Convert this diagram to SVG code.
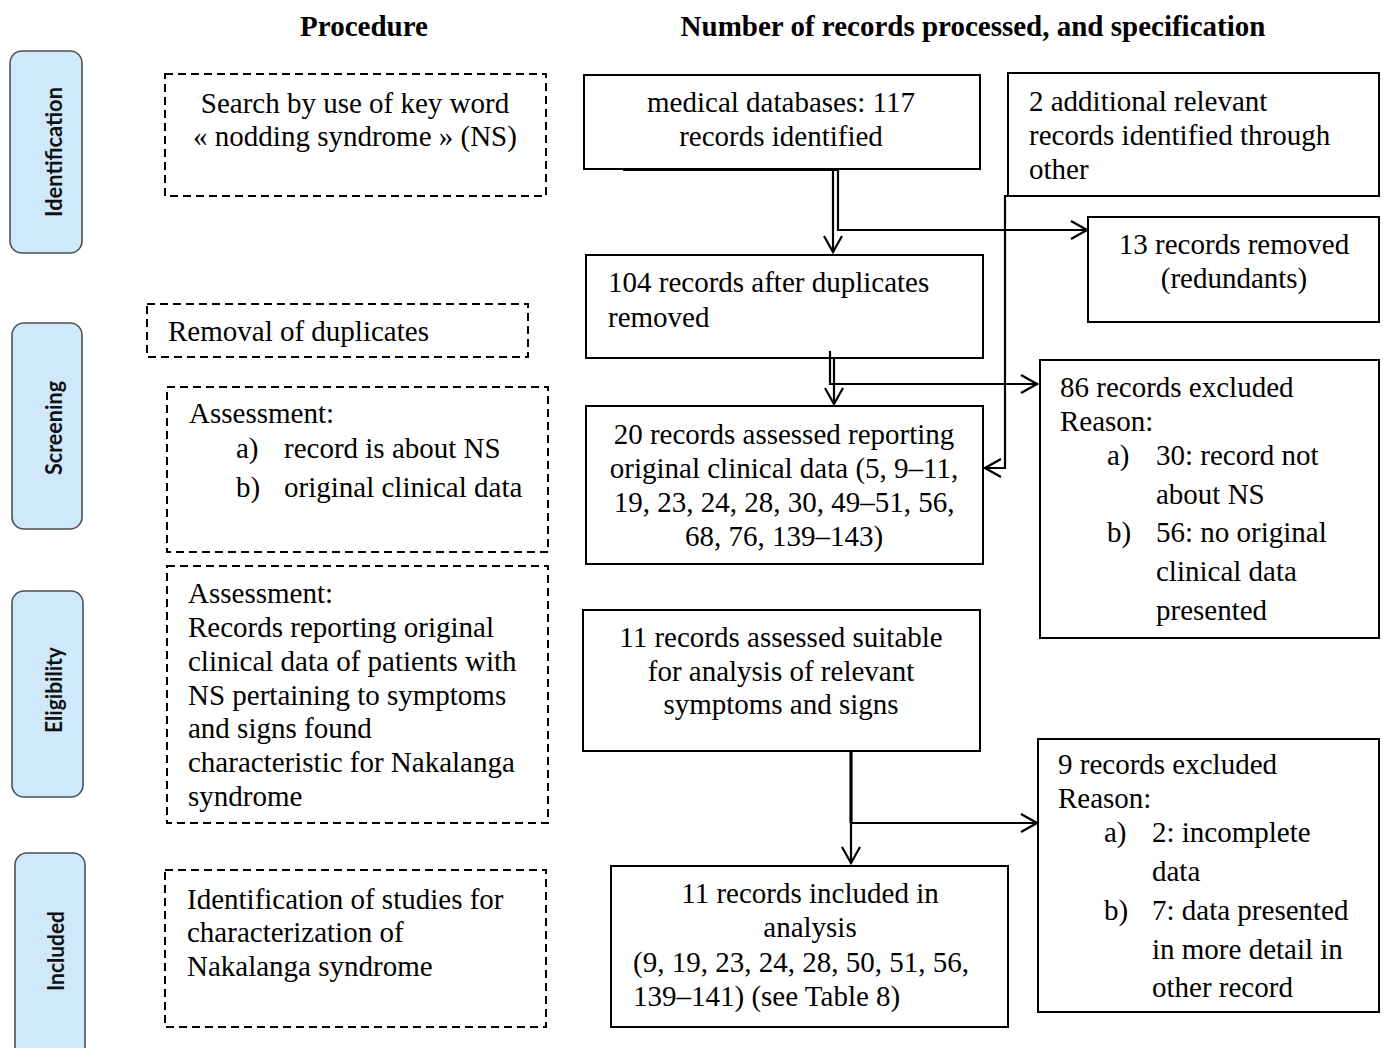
<svg xmlns="http://www.w3.org/2000/svg" width="1383" height="1048" viewBox="0 0 1383 1048">
<defs>
<style>
.t{font-family:"Liberation Serif","Times New Roman",serif;font-size:29px;fill:#000}
.c{text-anchor:middle}
.h{font-weight:bold}
.box{fill:#fff;stroke:#000;stroke-width:2}
.dash{fill:#fff;stroke:#000;stroke-width:2;stroke-dasharray:8 5}
.tab{fill:#cfe9fb;stroke:#4d5257;stroke-width:1.6}
.tabt{font-family:Lato,"Open Sans",sans-serif;font-weight:bold;font-size:22px;fill:#111;text-anchor:middle}
.ln{fill:none;stroke:#000;stroke-width:2.2}
</style>
<marker id="ah" viewBox="0 0 20 20" refX="18" refY="10" markerWidth="20" markerHeight="20" markerUnits="userSpaceOnUse" orient="auto">
<path d="M2,1 L18,10 L2,19" fill="none" stroke="#000" stroke-width="2.2"/>
</marker>
</defs>
<rect width="1383" height="1048" fill="#fff"/>

<g id="headers">
<text class="t h c" x="364" y="36">Procedure</text>
<text class="t h c" x="973" y="36">Number of records processed, and specification</text>
</g>

<g id="tab-identification">
<rect class="tab" x="10" y="51" width="72" height="202" rx="12"/>
<text class="tabt" transform="translate(62,152) rotate(-90)" textLength="130" lengthAdjust="spacingAndGlyphs">Identification</text>
</g>
<g id="tab-screening">
<rect class="tab" x="12" y="323" width="70" height="206" rx="12"/>
<text class="tabt" transform="translate(62,428) rotate(-90)" textLength="94" lengthAdjust="spacingAndGlyphs">Screening</text>
</g>
<g id="tab-eligibility">
<rect class="tab" x="12" y="591" width="71" height="206" rx="12"/>
<text class="tabt" transform="translate(62,690) rotate(-90)" textLength="86" lengthAdjust="spacingAndGlyphs">Eligibility</text>
</g>
<g id="tab-included">
<rect class="tab" x="15" y="853" width="70" height="210" rx="12"/>
<text class="tabt" transform="translate(64,951) rotate(-90)" textLength="80" lengthAdjust="spacingAndGlyphs">Included</text>
</g>

<g id="proc-search">
<rect class="dash" x="165" y="74" width="381" height="122"/>
<text class="t c" x="355" y="113">Search by use of key word</text>
<text class="t c" x="355" y="146">« nodding syndrome » (NS)</text>
</g>
<g id="proc-removal">
<rect class="dash" x="147" y="304" width="381" height="53"/>
<text class="t" x="168" y="341">Removal of duplicates</text>
</g>
<g id="proc-assess1">
<rect class="dash" x="167" y="387" width="381" height="165"/>
<text class="t" x="189" y="423">Assessment:</text>
<text class="t" x="236" y="458">a)</text><text class="t" x="284" y="458">record is about NS</text>
<text class="t" x="236" y="497">b)</text><text class="t" x="284" y="497">original clinical data</text>
</g>
<g id="proc-assess2">
<rect class="dash" x="167" y="566" width="381" height="257"/>
<text class="t" x="188" y="603">Assessment:</text>
<text class="t" x="188" y="637">Records reporting original</text>
<text class="t" x="188" y="671">clinical data of patients with</text>
<text class="t" x="188" y="705">NS pertaining to symptoms</text>
<text class="t" x="188" y="738">and signs found</text>
<text class="t" x="188" y="772">characteristic for Nakalanga</text>
<text class="t" x="188" y="806">syndrome</text>
</g>
<g id="proc-identify">
<rect class="dash" x="165" y="870" width="381" height="157"/>
<text class="t" x="187" y="909">Identification of studies for</text>
<text class="t" x="187" y="942">characterization of</text>
<text class="t" x="187" y="976">Nakalanga syndrome</text>
</g>

<g id="n-medical">
<rect class="box" x="584" y="75" width="396" height="94"/>
<text class="t c" x="781" y="112">medical databases: 117</text>
<text class="t c" x="781" y="146">records identified</text>
</g>
<g id="n-additional">
<rect class="box" x="1008" y="73" width="371" height="123"/>
<text class="t" x="1029" y="111">2 additional relevant</text>
<text class="t" x="1029" y="145">records identified through</text>
<text class="t" x="1029" y="179">other</text>
</g>
<g id="n-removed">
<rect class="box" x="1088" y="217" width="291" height="105"/>
<text class="t c" x="1234" y="254">13 records removed</text>
<text class="t c" x="1234" y="288">(redundants)</text>
</g>
<g id="n-104">
<rect class="box" x="586" y="255" width="397" height="103"/>
<text class="t" x="608" y="292">104 records after duplicates</text>
<text class="t" x="608" y="327">removed</text>
</g>
<g id="n-20">
<rect class="box" x="586" y="406" width="397" height="158"/>
<text class="t c" x="784" y="444">20 records assessed reporting</text>
<text class="t c" x="784" y="478">original clinical data (5, 9–11,</text>
<text class="t c" x="784" y="512">19, 23, 24, 28, 30, 49–51, 56,</text>
<text class="t c" x="784" y="546">68, 76, 139–143)</text>
</g>
<g id="n-86">
<rect class="box" x="1040" y="360" width="339" height="278"/>
<text class="t" x="1060" y="397">86 records excluded</text>
<text class="t" x="1060" y="431">Reason:</text>
<text class="t" x="1107" y="465">a)</text><text class="t" x="1156" y="465">30: record not</text>
<text class="t" x="1156" y="504">about NS</text>
<text class="t" x="1107" y="542">b)</text><text class="t" x="1156" y="542">56: no original</text>
<text class="t" x="1156" y="581">clinical data</text>
<text class="t" x="1156" y="620">presented</text>
</g>
<g id="n-suitable">
<rect class="box" x="583" y="610" width="397" height="141"/>
<text class="t c" x="781" y="647">11 records assessed suitable</text>
<text class="t c" x="781" y="681">for analysis of relevant</text>
<text class="t c" x="781" y="714">symptoms and signs</text>
</g>
<g id="n-9">
<rect class="box" x="1038" y="739" width="341" height="273"/>
<text class="t" x="1058" y="774">9 records excluded</text>
<text class="t" x="1058" y="808">Reason:</text>
<text class="t" x="1104" y="842">a)</text><text class="t" x="1152" y="842">2: incomplete</text>
<text class="t" x="1152" y="881">data</text>
<text class="t" x="1104" y="920">b)</text><text class="t" x="1152" y="920">7: data presented</text>
<text class="t" x="1152" y="959">in more detail in</text>
<text class="t" x="1152" y="997">other record</text>
</g>
<g id="n-included">
<rect class="box" x="611" y="866" width="397" height="161"/>
<text class="t c" x="810" y="903">11 records included in</text>
<text class="t c" x="810" y="937">analysis</text>
<text class="t" x="633" y="972">(9, 19, 23, 24, 28, 50, 51, 56,</text>
<text class="t" x="633" y="1006">139–141) (see Table 8)</text>
</g>

<g id="connectors">
<line class="ln" x1="623" y1="170" x2="838" y2="170"/>
<path class="ln" d="M833,169 V252" marker-end="url(#ah)"/>
<path class="ln" d="M838,169 V230 H1087" marker-end="url(#ah)"/>
<path class="ln" d="M830,351 V384 H1037" marker-end="url(#ah)"/>
<path class="ln" d="M834,358 V404" marker-end="url(#ah)"/>
<path class="ln" d="M1029,196 H1005 V468 H985" marker-end="url(#ah)"/>
<path class="ln" d="M851,751 V823" style="stroke-width:3.2"/>
<path class="ln" d="M851,823 V863" marker-end="url(#ah)"/>
<path class="ln" d="M851,823 H1037" marker-end="url(#ah)"/>
</g>
</svg>
